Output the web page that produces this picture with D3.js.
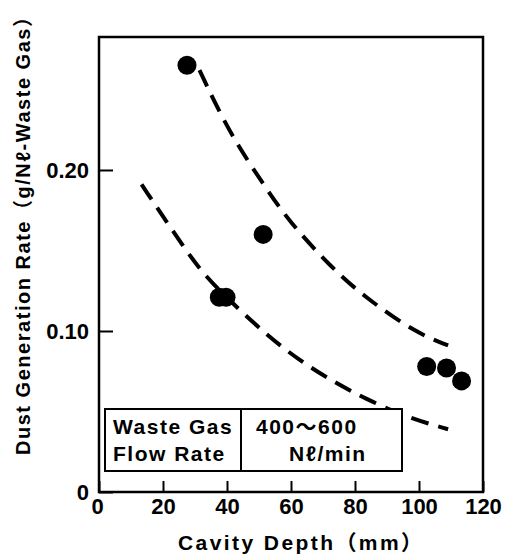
<!DOCTYPE html>
<html>
<head>
<meta charset="utf-8">
<script src="https://cdn.jsdelivr.net/npm/d3@7"></script>
<style>
  body { margin: 0; background: #fff; }
  .tick text { font-family: "Liberation Sans Narrow", "Arial Narrow", "Liberation Sans", sans-serif; font-weight: bold; font-size: 22px; fill: #000; }
  .title { font-family: "Liberation Sans", Arial, "Noto Sans CJK JP", sans-serif; font-weight: bold; font-size: 21px; fill: #000; }
</style>
</head>
<body>
<div id="chart"></div>
<script>
var width = 505,
  height = 557;

// measured points
var depth = [27.5, 37.6, 39.7, 51.3, 102.4, 108.6, 113.3];
var rate = [0.265, 0.121, 0.121, 0.160, 0.078, 0.077, 0.069];

// dashed trend curves
var upperX = [31.4, 40.7, 52.1, 59.4, 72.8, 83.1, 98.8, 109.1];
var upperY = [0.262, 0.223, 0.189, 0.168, 0.139, 0.121, 0.099, 0.091];
var lowerX = [13.3, 23.1, 31.4, 39.7, 52.1, 62.4, 72.8, 83.1, 96.7, 109.1];
var lowerY = [0.191, 0.162, 0.138, 0.121, 0.098, 0.082, 0.069, 0.058, 0.046, 0.039];

var xTicks = [0, 20, 40, 60, 80, 100, 120];
var yTicks = [0, 0.10, 0.20];
var yTickLabels = ['0', '0.10', '0.20'];

var x = d3.scaleLinear().domain([0, 120]).range([99, 483]);
var y = d3.scaleLinear().domain([0, 0.2826]).range([492, 37]);

var svg = d3.select('#chart')
  .append('svg')
  .attr('width', width)
  .attr('height', height);

var line = d3.line()
  .x(function (d) { return x(d[0]); })
  .y(function (d) { return y(d[1]); })
  .curve(d3.curveBasis);

[d3.zip(upperX, upperY), d3.zip(lowerX, lowerY)].forEach(function (pts) {
  svg.append('path')
    .datum(pts)
    .attr('d', line)
    .attr('fill', 'none')
    .attr('stroke', '#000')
    .attr('stroke-width', 4)
    .attr('stroke-dasharray', '18,10');
});

svg.selectAll('.dot')
  .data(d3.zip(depth, rate))
  .enter()
  .append('circle')
  .attr('class', 'dot')
  .attr('cx', function (d) { return x(d[0]); })
  .attr('cy', function (d) { return y(d[1]); })
  .attr('r', 9.5)
  .attr('fill', '#000');

// legend box (covers the curve)
var lg = svg.append('g');
lg.append('rect')
  .attr('x', 105).attr('y', 409)
  .attr('width', 297).attr('height', 62)
  .attr('fill', '#fff')
  .attr('stroke', '#000')
  .attr('stroke-width', 2);
lg.append('line')
  .attr('x1', 241).attr('x2', 241)
  .attr('y1', 409).attr('y2', 471)
  .attr('stroke', '#000')
  .attr('stroke-width', 2);
var lgText = [
  ['Waste Gas', 113, 434],
  ['Flow Rate', 113, 461],
  ['400～600', 256, 434],
  ['Nℓ/min', 289, 461]
];
lg.selectAll('text')
  .data(lgText)
  .enter()
  .append('text')
  .attr('class', 'title')
  .attr('x', function (d) { return d[1]; })
  .attr('y', function (d) { return d[2]; })
  .style('letter-spacing', '1.5px')
  .text(function (d) { return d[0]; });

// axes
var xAxis = d3.axisBottom(x)
  .tickValues(xTicks)
  .tickSizeInner(-11)
  .tickSizeOuter(0)
  .tickPadding(6);

var yAxis = d3.axisLeft(y)
  .tickValues(yTicks)
  .tickFormat(function (d, i) { return yTickLabels[i]; })
  .tickSizeInner(-14)
  .tickSizeOuter(0)
  .tickPadding(10);

var gx = svg.append('g')
  .attr('transform', 'translate(0,' + y(0) + ')')
  .call(xAxis);
var gy = svg.append('g')
  .attr('transform', 'translate(' + x(0) + ',0)')
  .call(yAxis);

[gx, gy].forEach(function (g) {
  g.select('.domain').remove();
  g.selectAll('.tick line').attr('stroke', '#000').attr('stroke-width', 2);
});
gx.selectAll('.tick text').attr('dx', function (d) { return d === 0 ? '-2' : 0; });

// frame
svg.append('rect')
  .attr('x', x(0)).attr('y', y(0.2826))
  .attr('width', x(120) - x(0))
  .attr('height', y(0) - y(0.2826))
  .attr('fill', 'none')
  .attr('stroke', '#000')
  .attr('stroke-width', 2.5);

svg.append('text')
  .attr('class', 'title')
  .attr('x', 300).attr('y', 550)
  .attr('text-anchor', 'middle')
  .attr('textLength', 244)
  .attr('lengthAdjust', 'spacing')
  .text('Cavity Depth（mm）');

svg.append('text')
  .attr('class', 'title')
  .attr('transform', 'translate(30,231) rotate(-90)')
  .attr('text-anchor', 'middle')
  .style('font-size', '20px')
  .attr('textLength', 448)
  .attr('lengthAdjust', 'spacing')
  .text('Dust Generation Rate（g/Nℓ-Waste Gas）');
</script>
</body>
</html>
